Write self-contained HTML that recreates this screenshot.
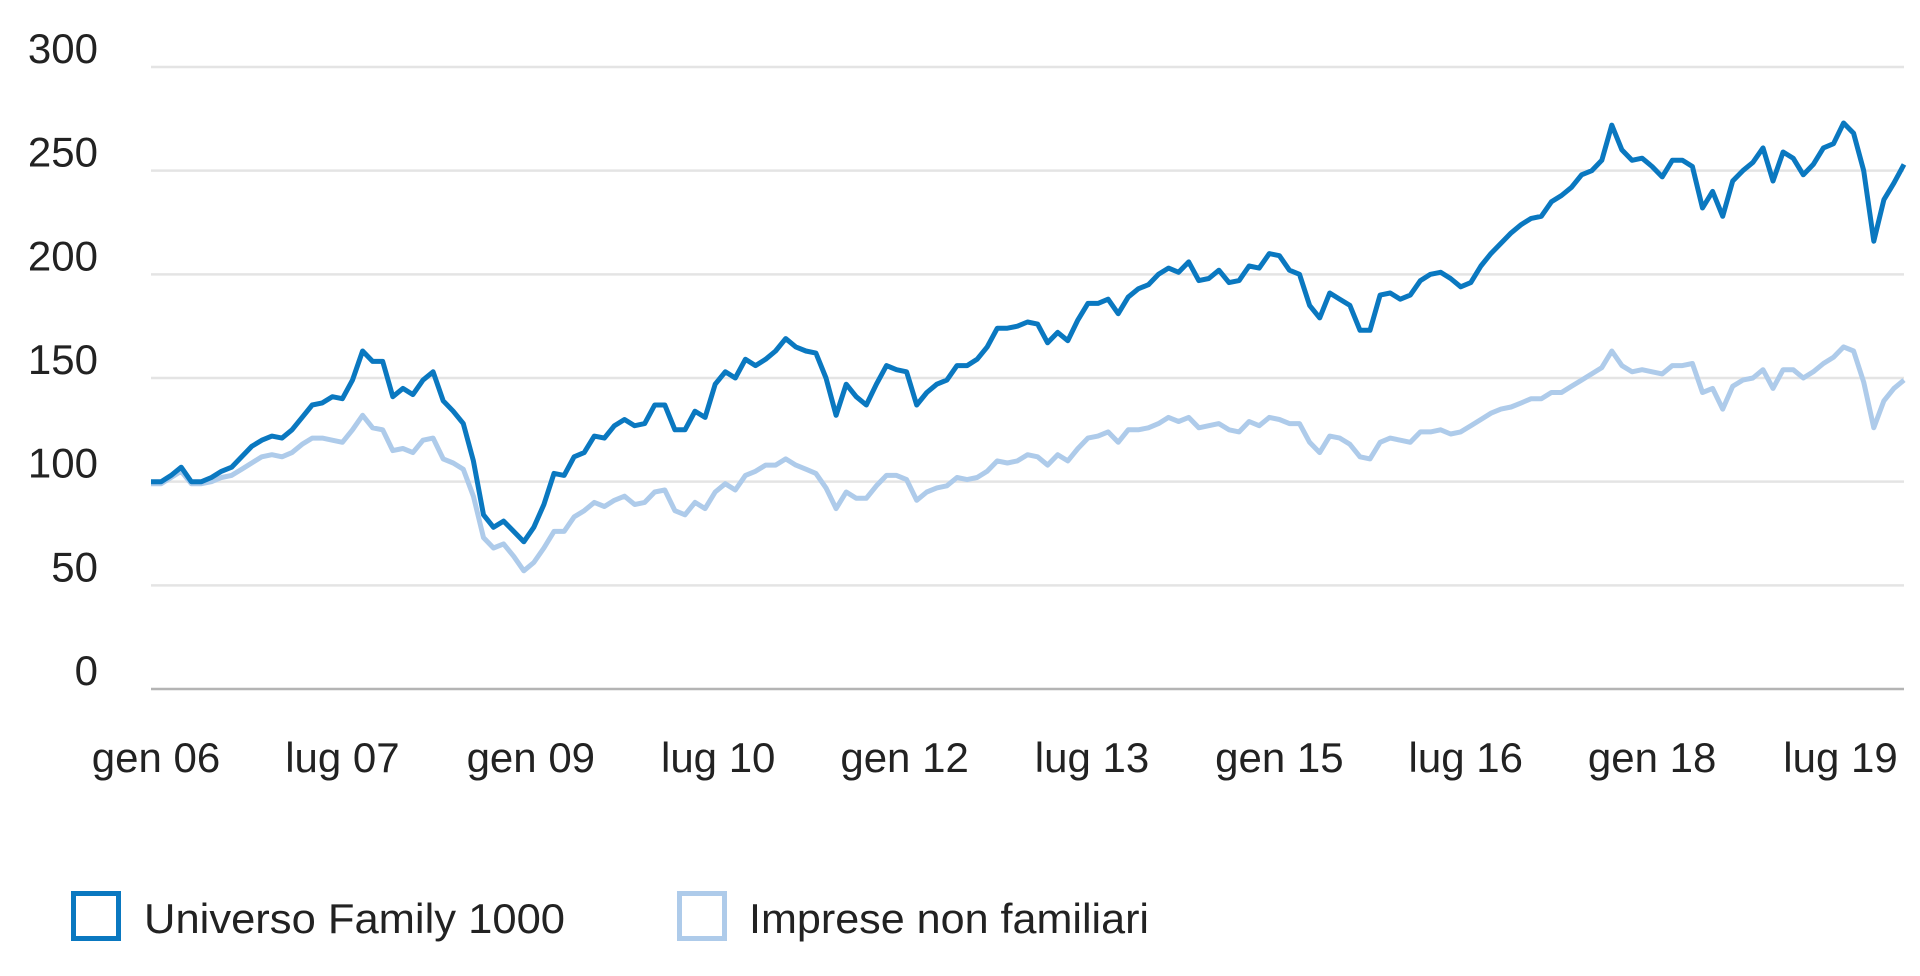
<!DOCTYPE html>
<html><head><meta charset="utf-8"><style>
html,body{margin:0;padding:0;background:#fff;}
svg{display:block;font-family:"Liberation Sans",Arial,sans-serif;}
</style></head><body>
<svg id="chart" width="1920" height="976" viewBox="0 0 1920 976" xmlns="http://www.w3.org/2000/svg">
<g id="grid"></g>
<g id="ylabels"></g>
<g id="xlabels"></g>
<g id="series"></g>
<g>
  <rect x="73.5" y="893.5" width="45" height="45" fill="none" stroke="#0a78c0" stroke-width="5"/>
  <text x="144" y="933" font-size="42" fill="#222" textLength="421" lengthAdjust="spacingAndGlyphs">Universo Family 1000</text>
  <rect x="679.5" y="893.5" width="45" height="45" fill="none" stroke="#aecbea" stroke-width="5"/>
  <text x="749" y="933" font-size="42" fill="#222" textLength="400" lengthAdjust="spacingAndGlyphs">Imprese non familiari</text>
</g>
</svg>
<script>
const yTicks = [0, 50, 100, 150, 200, 250, 300];
const xTickLabels = ["gen 06","lug 07","gen 09","lug 10","gen 12","lug 13","gen 15","lug 16","gen 18","lug 19"];
const xTickIndex = [0.5, 19, 37.7, 56.3, 74.8, 93.4, 112, 130.5, 149, 167.7];
const familySeries = [100,100,103,107,100,100,102,105,107,112,117,120,122,121,125,131,137,138,141,140,149,163,158,158,141,145,142,149,153,139,134,128,110,84,78,81,76,71,78,89,104,103,112,114,122,121,127,130,127,128,137,137,125,125,134,131,147,153,150,159,156,159,163,169,165,163,162,150,132,147,141,137,147,156,154,153,137,143,147,149,156,156,159,165,174,174,175,177,176,167,172,168,178,186,186,188,181,189,193,195,200,203,201,206,197,198,202,196,197,204,203,210,209,202,200,185,179,191,188,185,173,173,190,191,188,190,197,200,201,198,194,196,204,210,215,220,224,227,228,235,238,242,248,250,255,272,260,255,256,252,247,255,255,252,232,240,228,245,250,254,261,245,259,256,248,253,261,263,273,268,250,216,236,244,253];
const nonFamilySeries = [99,99,102,105,99,99,100,102,103,106,109,112,113,112,114,118,121,121,120,119,125,132,126,125,115,116,114,120,121,111,109,106,93,73,68,70,64,57,61,68,76,76,83,86,90,88,91,93,89,90,95,96,86,84,90,87,95,99,96,103,105,108,108,111,108,106,104,97,87,95,92,92,98,103,103,101,91,95,97,98,102,101,102,105,110,109,110,113,112,108,113,110,116,121,122,124,119,125,125,126,128,131,129,131,126,127,128,125,124,129,127,131,130,128,128,119,114,122,121,118,112,111,119,121,120,119,124,124,125,123,124,127,130,133,135,136,138,140,140,143,143,146,149,152,155,163,156,153,154,153,152,156,156,157,143,145,135,146,149,150,154,145,154,154,150,153,157,160,165,163,148,126,139,145,149];

const NS = "http://www.w3.org/2000/svg";
const X0 = 151, X1 = 1904, Y0 = 689, Y300 = 67;
const nPts = familySeries.length;
const xScale = i => X0 + (X1 - X0) * i / (nPts - 1);
const yScale = v => Y0 - (Y0 - Y300) * v / 300;

const grid = document.getElementById('grid');
const ylab = document.getElementById('ylabels');
yTicks.forEach(t => {
  const y = yScale(t);
  const l = document.createElementNS(NS, 'line');
  
  
  l.setAttribute('x1', X0); l.setAttribute('x2', X1);
  l.setAttribute('y1', y); l.setAttribute('y2', y);
  l.setAttribute('stroke', t === 0 ? '#b4b4b4' : '#e4e4e4');
  l.setAttribute('stroke-width', '2.5');
  grid.appendChild(l);
  const tx = document.createElementNS(NS, 'text');
  
  
  tx.setAttribute('x', 98); tx.setAttribute('y', y - 4);
  tx.setAttribute('text-anchor', 'end');
  tx.setAttribute('font-size', '42');
  tx.setAttribute('fill', '#222');
  tx.textContent = t;
  ylab.appendChild(tx);
});

const xlab = document.getElementById('xlabels');
xTickLabels.forEach((lab, k) => {
  const tx = document.createElementNS(NS, 'text');
  
  
  tx.setAttribute('x', xScale(xTickIndex[k])); tx.setAttribute('y', 772);
  tx.setAttribute('text-anchor', 'middle');
  tx.setAttribute('font-size', '42');
  tx.setAttribute('fill', '#222');
  tx.textContent = lab;
  xlab.appendChild(tx);
});

const ser = document.getElementById('series');
function drawLine(arr, color, name) {
  const p = document.createElementNS(NS, 'polyline');
  
  
  p.setAttribute('points', arr.map((v, i) => xScale(i).toFixed(1) + ',' + yScale(v).toFixed(1)).join(' '));
  p.setAttribute('fill', 'none');
  p.setAttribute('stroke', color);
  p.setAttribute('stroke-width', '5');
  p.setAttribute('stroke-linejoin', 'round');
  ser.appendChild(p);
}
drawLine(nonFamilySeries, '#aecbea', 'line-imprese-non-familiari');
drawLine(familySeries, '#0a78c0', 'line-universo-family-1000');
</script>
</body></html>
